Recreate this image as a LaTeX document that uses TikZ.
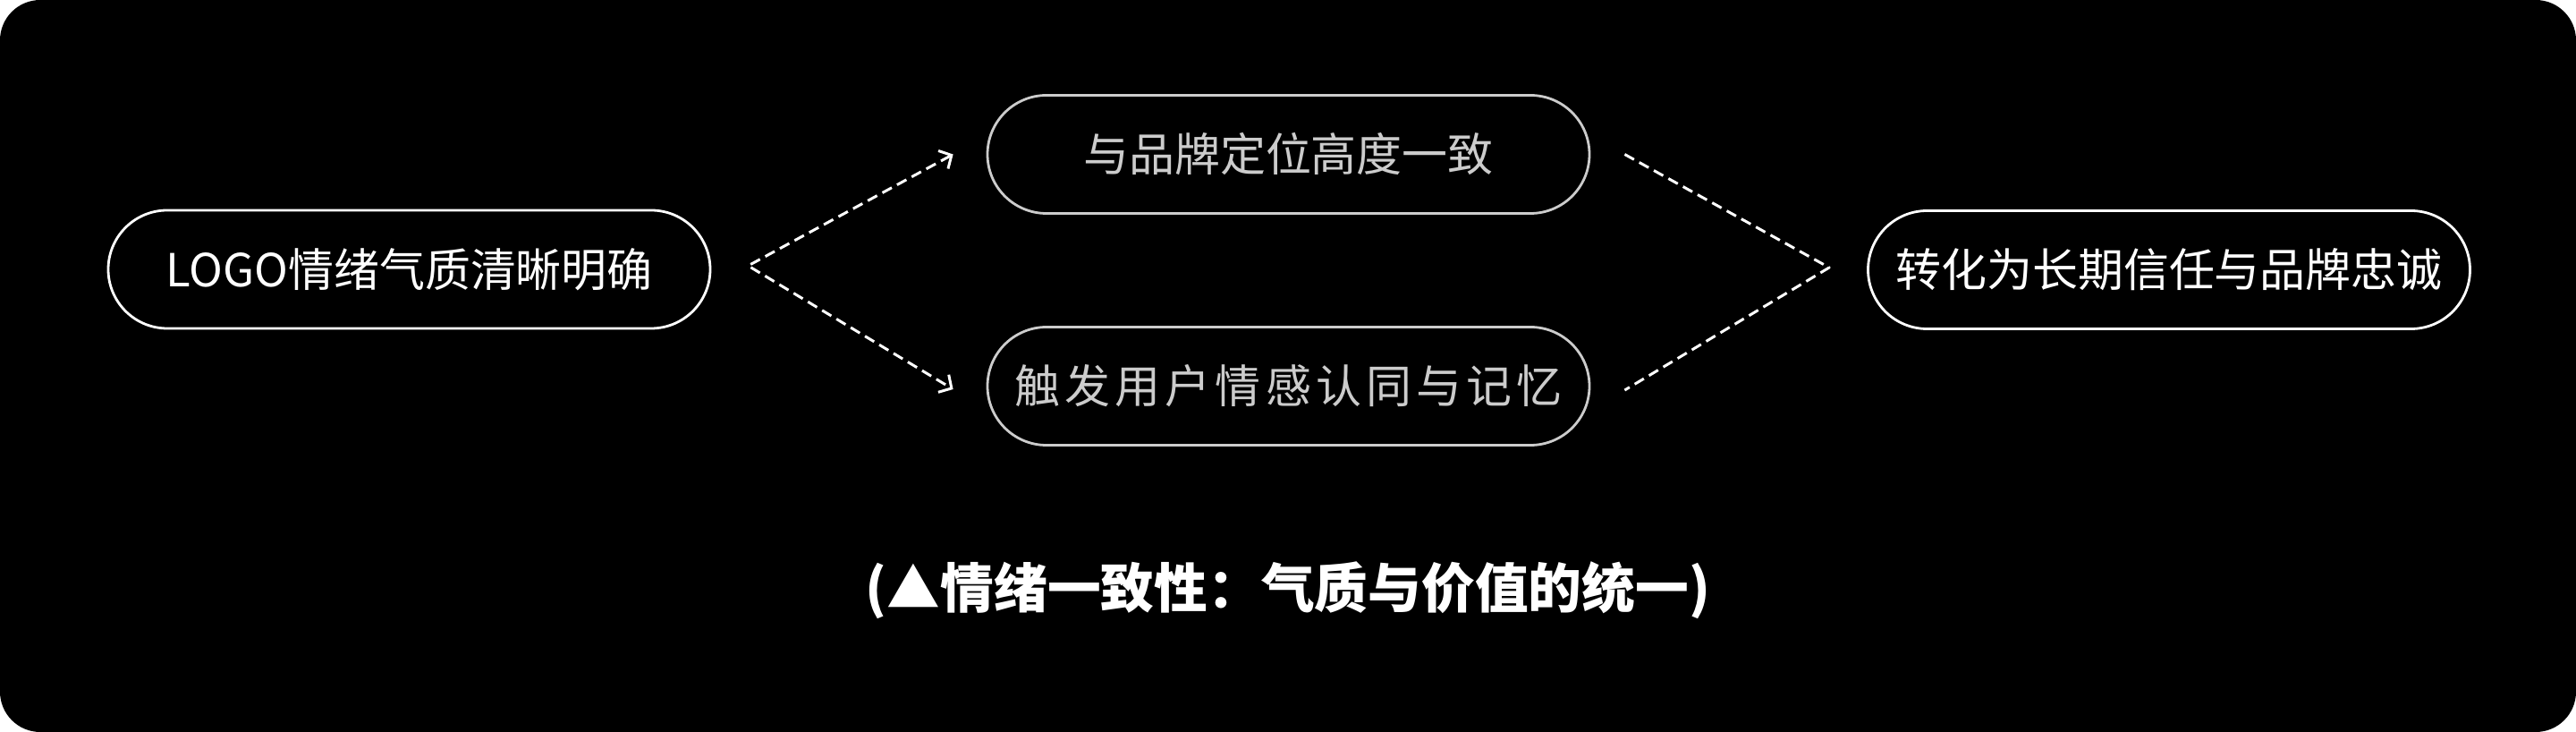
\documentclass[tikz,border=0pt]{standalone}
\usepackage{fontspec}
\setmainfont{Noto Sans CJK SC}
\usetikzlibrary{arrows.meta}
\definecolor{pillgrey}{HTML}{CCCCCC}

\begin{document}
\begin{tikzpicture}[line join=round,
        every node/.style={text=white, font=\fontsize{14.5pt}{17pt}\selectfont},
        pill/.style={draw=white, line width=0.8pt, rounded corners=0.66cm, minimum width=6.73cm, minimum height=1.32cm, inner sep=0pt},
        midpill/.style={pill, draw=pillgrey, text=pillgrey},
        flow/.style={draw=white, line width=0.85pt, dash pattern=on 3.4pt off 1.9pt}]
        % background
        \fill[white] (0,0) rectangle (28.8,-8.18);
        \fill[black, rounded corners=0.45cm] (0,0) rectangle (28.8,-8.18);
        % steps
        \node[pill] (logo) at (4.575,-3.01) {LOGO情绪气质清晰明确};
        \node[midpill] (brand) at (14.405,-1.725) {与品牌定位高度一致};
        \node[midpill] (memory) at (14.405,-4.315) {\addfontfeature{LetterSpace=10}触发用户情感认同与记忆};
        \node[pill] (trust) at (24.25,-3.015) {转化为长期信任与品牌忠诚};
        % connector ends
        \coordinate (split) at ([xshift=0.41cm,yshift=0.04cm]logo.east);
        \coordinate (brandin) at ([xshift=-0.37cm]brand.west);
        \coordinate (memoryin) at ([xshift=-0.37cm,yshift=-0.035cm]memory.west);
        \coordinate (brandout) at ([xshift=0.38cm]brand.east);
        \coordinate (memoryout) at ([xshift=0.38cm,yshift=-0.045cm]memory.east);
        \coordinate (merge) at ([xshift=-0.42cm,yshift=0.025cm]trust.west);
        % connectors
        \draw[flow, {Straight Barb[length=3pt,width=6.5pt]}-{Straight Barb[length=3pt,width=6.5pt]}] (brandin) -- (split) -- (memoryin);
        \draw[flow] (brandout) -- (merge) -- (memoryout);
        % caption
        \node[font=\fontsize{17pt}{20pt}\selectfont\bfseries] (caption) at (14.4,-6.6) {(▲情绪一致性：气质与价值的统一)};
\end{tikzpicture}
\end{document}
